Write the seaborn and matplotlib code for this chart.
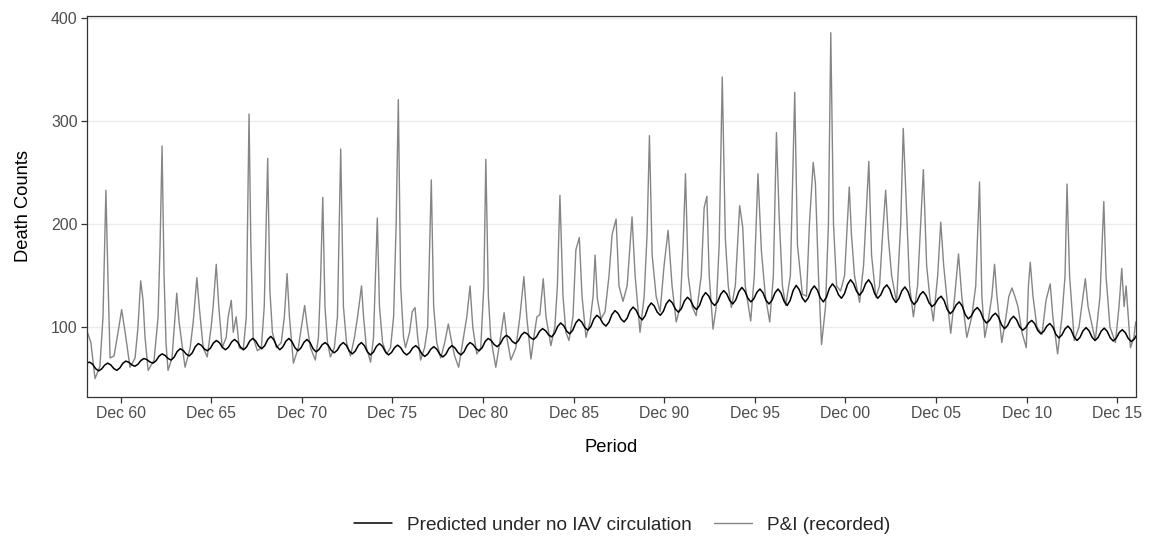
import numpy as np
import pandas as pd
import matplotlib
matplotlib.use("Agg")
import matplotlib.pyplot as plt
from matplotlib.lines import Line2D
import seaborn as sns

# Weekly pneumonia & influenza deaths (recorded), sampled at turning points, decimal years
pi_year = [
    1959.04, 1959.27, 1959.50, 1959.77, 1959.94, 1960.10, 1960.21, 1960.33, 1960.55, 1960.77,
    1960.97, 1961.16, 1961.43, 1961.71, 1961.87, 1962.02, 1962.15, 1962.26, 1962.43, 1962.76,
    1962.98, 1963.09, 1963.20, 1963.31, 1963.42, 1963.53, 1963.75, 1964.01, 1964.14, 1964.36,
    1964.47, 1964.75, 1964.92, 1965.12, 1965.25, 1965.47, 1965.69, 1965.91, 1966.02, 1966.19,
    1966.33, 1966.52, 1966.74, 1966.85, 1967.02, 1967.13, 1967.29, 1967.46, 1967.68, 1967.85,
    1968.00, 1968.10, 1968.23, 1968.46, 1968.68, 1968.84, 1969.03, 1969.15, 1969.29, 1969.51,
    1969.78, 1969.95, 1970.10, 1970.23, 1970.45, 1970.72, 1970.89, 1971.07, 1971.22, 1971.39,
    1971.66, 1971.83, 1971.94, 1972.07, 1972.19, 1972.33, 1972.49, 1972.71, 1972.88, 1973.06,
    1973.21, 1973.38, 1973.60, 1973.82, 1973.99, 1974.10, 1974.21, 1974.32, 1974.48, 1974.71,
    1974.87, 1975.08, 1975.20, 1975.37, 1975.59, 1975.81, 1975.98, 1976.12, 1976.24, 1976.37,
    1976.53, 1976.64, 1976.86, 1977.01, 1977.16, 1977.31, 1977.47, 1977.69, 1977.86, 1978.06,
    1978.19, 1978.36, 1978.58, 1978.80, 1979.00, 1979.19, 1979.35, 1979.57, 1979.79, 1980.02,
    1980.20, 1980.35, 1980.57, 1980.79, 1980.96, 1981.07, 1981.21, 1981.34, 1981.62, 1981.84,
    1982.08, 1982.23, 1982.45, 1982.73, 1982.95, 1983.17, 1983.33, 1983.56, 1983.72, 1983.89,
    1984.05, 1984.24, 1984.39, 1984.66, 1984.88, 1985.02, 1985.16, 1985.33, 1985.49, 1985.66,
    1985.88, 1986.04, 1986.23, 1986.38, 1986.60, 1986.82, 1986.99, 1987.10, 1987.23, 1987.43,
    1987.65, 1987.87, 1988.04, 1988.26, 1988.42, 1988.64, 1988.87, 1989.14, 1989.31, 1989.58,
    1989.81, 1989.97, 1990.10, 1990.25, 1990.47, 1990.69, 1990.91, 1991.13, 1991.35, 1991.58,
    1991.80, 1991.96, 1992.09, 1992.24, 1992.46, 1992.68, 1992.96, 1993.12, 1993.27, 1993.40,
    1993.61, 1993.79, 1993.95, 1994.12, 1994.29, 1994.45, 1994.62, 1994.84, 1995.08, 1995.25,
    1995.39, 1995.69, 1995.89, 1996.09, 1996.28, 1996.50, 1996.74, 1996.94, 1997.11, 1997.26,
    1997.44, 1997.62, 1997.88, 1998.12, 1998.27, 1998.54, 1998.77, 1998.93, 1999.14, 1999.26,
    1999.43, 1999.60, 1999.82, 1999.98, 2000.11, 2000.26, 2000.43, 2000.65, 2000.87, 2001.13,
    2001.25, 2001.42, 2001.70, 2001.92, 2002.21, 2002.36, 2002.60, 2002.80, 2002.97, 2003.14,
    2003.29, 2003.47, 2003.74, 2003.97, 2004.11, 2004.30, 2004.46, 2004.67, 2004.90, 2005.22,
    2005.40, 2005.57, 2005.77, 2006.01, 2006.18, 2006.34, 2006.51, 2006.73, 2006.95, 2007.16,
    2007.34, 2007.62, 2007.89, 2008.11, 2008.32, 2008.45, 2008.61, 2008.83, 2009.00, 2009.15,
    2009.28, 2009.55, 2009.78, 2009.94, 2010.11, 2010.27, 2010.44, 2010.66, 2010.90, 2011.02,
    2011.12, 2011.27, 2011.49, 2011.77, 2011.99, 2012.22, 2012.37, 2012.63, 2012.87, 2013.04,
    2013.15, 2013.29, 2013.55, 2013.81, 2014.16, 2014.31, 2014.71, 2014.97, 2015.18, 2015.30,
    2015.52, 2015.82, 2016.02, 2016.17, 2016.30, 2016.41, 2016.65, 2016.84, 2016.94,
]
pi_deaths = [
    97, 85, 50, 62, 110, 233, 150, 70, 72, 95,
    117, 95, 61, 70, 100, 145, 126, 90, 58, 68,
    110, 180, 276, 150, 84, 58, 70, 133, 105, 75,
    61, 80, 105, 148, 120, 80, 71, 100, 120, 161,
    120, 80, 90, 110, 126, 95, 110, 80, 78, 110,
    307, 180, 90, 77, 80, 120, 264, 136, 95, 80,
    85, 110, 152, 110, 65, 80, 100, 121, 100, 80,
    68, 90, 140, 226, 120, 85, 71, 80, 110, 273,
    120, 85, 72, 90, 110, 125, 140, 110, 80, 66,
    90, 206, 120, 85, 74, 80, 110, 200, 321, 140,
    90, 80, 95, 115, 119, 90, 68, 80, 100, 243,
    120, 85, 70, 85, 103, 85, 72, 61, 85, 110,
    140, 100, 74, 80, 140, 263, 130, 90, 61, 85,
    114, 90, 68, 80, 110, 149, 110, 69, 90, 110,
    112, 147, 110, 82, 100, 140, 228, 130, 95, 87,
    110, 175, 187, 130, 90, 105, 130, 170, 127, 108,
    115, 150, 190, 205, 140, 125, 140, 207, 150, 95,
    130, 190, 286, 170, 130, 115, 160, 194, 140, 105,
    120, 180, 249, 150, 120, 111, 150, 216, 227, 150,
    98, 120, 180, 343, 186, 140, 119, 140, 218, 197,
    140, 106, 150, 249, 174, 130, 105, 150, 289, 208,
    140, 121, 150, 328, 180, 132, 130, 200, 260, 240,
    150, 83, 120, 200, 386, 200, 140, 135, 150, 236,
    190, 150, 124, 160, 261, 170, 129, 140, 190, 233,
    186, 150, 124, 200, 293, 209, 140, 110, 140, 253,
    160, 130, 106, 150, 202, 160, 130, 94, 130, 171,
    130, 90, 110, 140, 241, 130, 90, 110, 130, 161,
    130, 85, 110, 130, 138, 130, 120, 95, 80, 140,
    163, 130, 100, 93, 126, 142, 110, 74, 110, 150,
    239, 150, 87, 100, 147, 120, 87, 130, 222, 150,
    100, 85, 120, 157, 120, 140, 80, 90, 105,
]

# Baseline predicted without influenza A circulation: six readings per year
# (winter peak, two falling, summer trough, two rising), starting late 1958
pred_start = 1958.8667
pred_step = 1 / 6
pred_deaths = [
    63, 65,
    66, 63.9, 59.6, 57.5, 59.4, 63.1,            # 1959
    65, 63.3, 59.8, 58, 60.3, 64.8,              # 1960
    67, 65.8, 63.3, 62, 63.9, 67.6,              # 1961
    69.5, 68.4, 66.1, 65, 67.3, 71.8,            # 1962
    74, 72.5, 69.5, 68, 70.8, 76.3,              # 1963
    79, 77.3, 73.8, 72, 75, 81,                  # 1964
    84, 82.3, 78.8, 77, 79.5, 84.5,              # 1965
    87, 84.8, 80.3, 78, 80.5, 85.5,              # 1966
    88, 85.5, 80.5, 78, 80.8, 86.3,              # 1967
    89, 86.5, 81.5, 79, 82, 88,                  # 1968
    91, 87.8, 81.3, 78, 80.8, 86.3,              # 1969
    89, 86, 80, 77, 79.8, 85.3,                  # 1970
    88, 85, 79, 76, 78.3, 82.8,                  # 1971
    85, 82.5, 77.5, 75, 77.5, 82.5,              # 1972
    85, 82.3, 76.8, 74, 76.8, 82.3,              # 1973
    85, 82, 76, 73, 75.8, 81.3,                  # 1974
    84, 81.3, 75.8, 73, 75.4, 80.1,              # 1975
    82.5, 80.1, 75.4, 73, 75.3, 79.8,            # 1976
    82, 79.4, 74.1, 71.5, 73.9, 78.6,            # 1977
    81, 78.5, 73.5, 71, 73.8, 79.3,              # 1978
    82, 79.8, 75.3, 73, 76, 82,                  # 1979
    85, 83, 79, 77, 80, 86,                      # 1980
    89, 87, 83, 81, 83.8, 89.3,                  # 1981
    92, 90, 86, 84, 86.8, 92.3,                  # 1982
    95, 93.3, 89.8, 88, 90.6, 95.9,              # 1983
    98.5, 96.5, 92.5, 90.5, 93.9, 100.6,         # 1984
    104, 101.4, 96.1, 93.5, 97, 104,             # 1985
    107.5, 104.9, 99.6, 97, 100.6, 107.9,        # 1986
    111.5, 108.9, 103.6, 101, 104.8, 112.3,      # 1987
    116, 113.3, 107.8, 105, 108.6, 115.9,        # 1988
    119.5, 116.4, 110.1, 107, 111.1, 119.4,      # 1989
    123.5, 120.5, 114.5, 111.5, 115.3, 122.8,    # 1990
    126.5, 123.5, 117.5, 114.5, 118.1, 125.4,    # 1991
    129, 126, 120, 117, 121.1, 129.4,            # 1992
    133.5, 130.4, 124.1, 121, 124.6, 131.9,      # 1993
    135.5, 132.3, 125.8, 122.5, 126.5, 134.5,    # 1994
    138.5, 135, 128, 124.5, 127.6, 133.9,        # 1995
    137, 133.4, 126.1, 122.5, 126.1, 133.4,      # 1996
    137, 133, 125, 121, 125.9, 135.6,            # 1997
    140.5, 136.5, 128.5, 124.5, 128.4, 136.1,    # 1998
    140, 136.1, 128.4, 124.5, 128.9, 137.6,      # 1999
    142, 138.5, 131.5, 128, 132.5, 141.5,        # 2000
    146, 142.3, 134.8, 131, 134.8, 142.3,        # 2001
    146, 141.5, 132.5, 128, 131.3, 137.8,        # 2002
    141, 136.8, 128.3, 124, 127.8, 135.3,        # 2003
    139, 134.8, 126.3, 122, 125.1, 131.4,        # 2004
    134.5, 130.9, 123.6, 120, 122.5, 127.5,      # 2005
    130, 125.8, 117.3, 113, 115.9, 121.6,        # 2006
    124.5, 120.4, 112.1, 108, 110.8, 116.3,      # 2007
    119, 115.3, 107.8, 104, 106.4, 111.1,        # 2008
    113.5, 109.8, 102.3, 98.5, 101.5, 107.5,     # 2009
    110.5, 107.1, 100.4, 97, 99.4, 104.1,        # 2010
    106.5, 103.3, 96.8, 93.5, 96, 101,           # 2011
    103.5, 100, 93, 89.5, 92.4, 98.1,            # 2012
    101, 97.5, 90.5, 87, 90.1, 96.4,             # 2013
    99.5, 96.4, 90.1, 87, 90, 96,                # 2014
    99, 95.9, 89.6, 86.5, 89.3, 94.8,            # 2015
    97.5, 94.6, 88.9, 86, 88.5, 93.5,            # 2016
]

tick_years = [1960, 1965, 1970, 1975, 1980, 1985, 1990, 1995, 2000, 2005, 2010, 2015]
tick_labels = ["Dec 60", "Dec 65", "Dec 70", "Dec 75", "Dec 80", "Dec 85",
               "Dec 90", "Dec 95", "Dec 00", "Dec 05", "Dec 10", "Dec 15"]

label_pred = "Predicted under no IAV circulation"
label_pi = "P&I (recorded)"

pred_year = pred_start + pred_step * np.arange(len(pred_deaths))
df = pd.concat([
    pd.DataFrame({"year": pi_year, "deaths": pi_deaths, "series": label_pi}),
    pd.DataFrame({"year": pred_year, "deaths": pred_deaths, "series": label_pred}),
], ignore_index=True)

sns.set_theme(style="white")
plt.rcParams["font.family"] = ["Liberation Sans", "DejaVu Sans"]

fig = plt.figure(figsize=(11.51, 5.38), dpi=100)
ax = fig.add_axes([86.7 / 1151, 1 - 396.5 / 538, (1135.7 - 86.7) / 1151, (396.5 - 15.7) / 538])

colors = {label_pi: "#858585", label_pred: "#000000"}
widths = {label_pi: 1.0, label_pred: 1.1}
for name in [label_pi, label_pred]:
    sns.lineplot(data=df[df["series"] == name], x="year", y="deaths",
                 color=colors[name], linewidth=widths[name], ax=ax,
                 estimator=None, sort=True, legend=False)

ax.set_xlim(1959.04, 2016.94)
ax.set_ylim(32.6, 402.5)
ax.set_xticks([y + 11 / 12 for y in tick_years])
ax.set_xticklabels(tick_labels)
ax.set_yticks([100, 200, 300, 400])

ax.yaxis.grid(True, color="#EBEBEB", linewidth=1.0)
ax.xaxis.grid(False)
ax.set_axisbelow(True)
for s in ax.spines.values():
    s.set_color("#333333")
    s.set_linewidth(0.9)

ax.tick_params(axis="both", which="major", length=4, width=0.9, color="#333333",
               labelcolor="#4D4D4D", labelsize=11.4, direction="out", pad=2.5)
ax.tick_params(axis="x", bottom=True)
ax.tick_params(axis="y", left=True)

ax.set_xlabel("Period", fontsize=13.2, color="#000000", labelpad=13)
ax.set_ylabel("Death Counts", fontsize=13.2, color="#000000", labelpad=14)

handles = [Line2D([], [], color="#000000", linewidth=1.1),
           Line2D([], [], color="#858585", linewidth=1.0)]
fig.legend(handles, [label_pred, label_pi], loc="center",
           bbox_to_anchor=(622 / 1151, 1 - 525 / 538), ncol=2, frameon=False,
           fontsize=13.7, handlelength=2.0, handletextpad=0.8, columnspacing=1.15)

fig.savefig("out.png", dpi=100)
